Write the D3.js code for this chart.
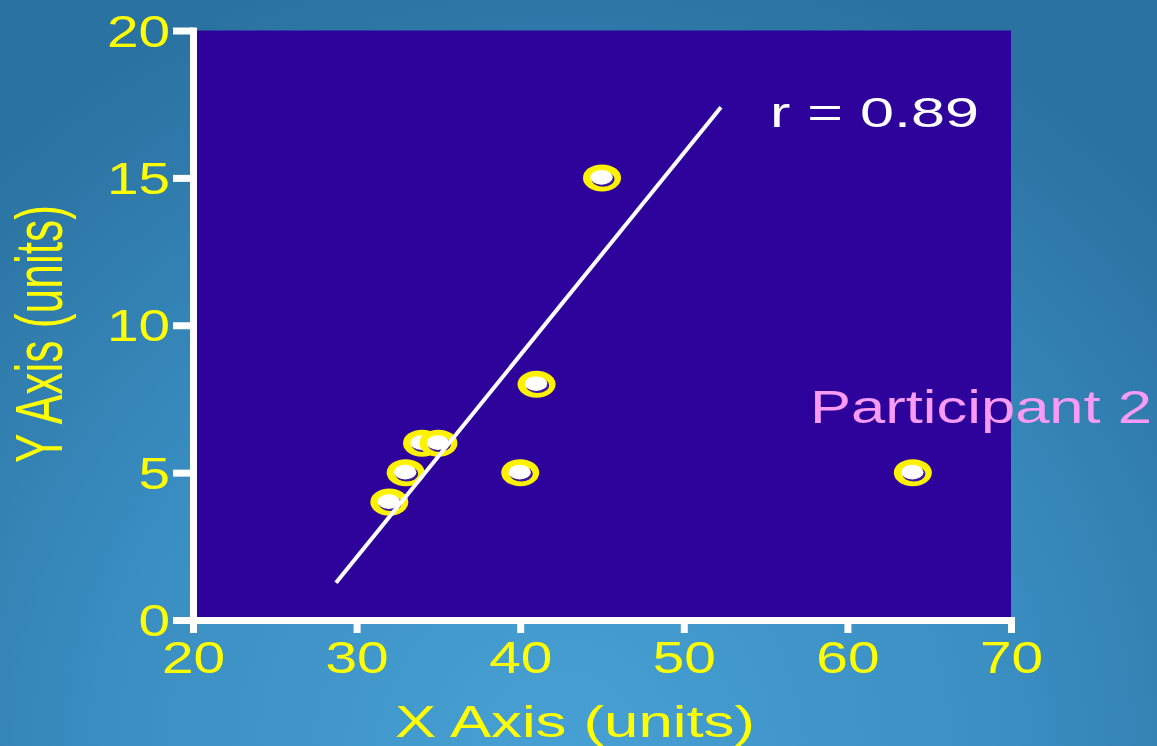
<!DOCTYPE html>
<html>
<head>
<meta charset="utf-8">
<script src="https://cdn.jsdelivr.net/npm/d3@7"></script>
<style>
  html, body { margin: 0; padding: 0; overflow: hidden; }
  svg { display: block; }
  text { font-family: "Liberation Sans", Arial, sans-serif; }
</style>
</head>
<body>
<svg id="chart" width="1157" height="746"></svg>
<script>
// ---- data ----
const xValues = [32, 33, 34, 35, 40, 41, 45, 64];
const yValues = [4, 5, 6, 6, 5, 8, 15, 5];
const xTicks = [20, 30, 40, 50, 60, 70];
const yTicks = [0, 5, 10, 15, 20];
const fitX = [28.74, 52.27];
const fitY = [1.26, 17.4];
const xTitle = "X Axis (units)";
const yTitle = "Y Axis (units)";
const rLabel = "r = 0.89";
const outlierLabel = "Participant 2";

const W = 1157, H = 746;
const svg = d3.select("#chart");

// background gradient
const defs = svg.append("defs");
const grad = defs.append("radialGradient").attr("id", "bg")
  .attr("gradientUnits", "userSpaceOnUse")
  .attr("cx", 560).attr("cy", 760).attr("r", 820);
grad.append("stop").attr("offset", "0").attr("stop-color", "#47a0d3");
grad.append("stop").attr("offset", "0.55").attr("stop-color", "#3a8ec2");
grad.append("stop").attr("offset", "1").attr("stop-color", "#2a72a1");
svg.append("rect").attr("width", W).attr("height", H).attr("fill", "url(#bg)");

const x = d3.scaleLinear().domain([20, 70]).range([193, 1011]);
const y = d3.scaleLinear().domain([0, 20]).range([620, 30.5]);

// plot area
svg.append("rect")
  .attr("x", x(20)).attr("y", y(20))
  .attr("width", x(70) - x(20)).attr("height", y(0) - y(20))
  .attr("fill", "#2d039b");

// points
const pts = svg.append("g");
xValues.forEach((xv, i) => {
  const g = pts.append("g").attr("transform", `translate(${x(xv)},${y(yValues[i])})`);
  g.append("ellipse").attr("rx", 19).attr("ry", 13.5).attr("fill", "#fff200");
  g.append("ellipse").attr("cx", 1).attr("cy", 1.2).attr("rx", 11.5).attr("ry", 7.6).attr("fill", "#3a1a9a");
  g.append("ellipse").attr("cx", -0.5).attr("cy", -0.5).attr("rx", 11.2).attr("ry", 7.3).attr("fill", "#ffffff");
});

// regression line
svg.append("line")
  .attr("x1", x(fitX[0])).attr("y1", y(fitY[0]))
  .attr("x2", x(fitX[1])).attr("y2", y(fitY[1]))
  .attr("stroke", "#ffffff").attr("stroke-width", 4);

// axes
const xAxis = svg.append("g").attr("transform", `translate(0,${y(0)})`)
  .call(d3.axisBottom(x).tickValues(xTicks).tickSize(13).tickSizeOuter(0).tickFormat(d3.format("d")));
const yAxis = svg.append("g").attr("transform", `translate(${x(20)},0)`)
  .call(d3.axisLeft(y).tickValues(yTicks).tickSize(20).tickSizeOuter(0).tickFormat(d3.format("d")));

[xAxis, yAxis].forEach(a => {
  a.select(".domain").attr("stroke", "#ffffff").attr("stroke-width", 7).attr("stroke-linecap", "square");
  a.selectAll(".tick line").attr("stroke", "#ffffff").attr("stroke-width", 7);
  a.selectAll(".tick text").attr("fill", "#ffff00").attr("font-size", 44)
    .attr("font-family", "Liberation Sans, Arial, sans-serif");
});
xAxis.selectAll(".tick text")
  .attr("y", 0).attr("dy", 0)
  .attr("transform", "translate(0,53) scale(1.29,1)");
yAxis.selectAll(".tick text")
  .attr("x", 0).attr("dy", 0).attr("text-anchor", "end")
  .attr("transform", "translate(-23,15.5) scale(1.29,1)");

// titles
svg.append("text").text(xTitle)
  .attr("x", 575).attr("y", 737).attr("text-anchor", "middle")
  .attr("font-size", 44).attr("fill", "#ffff00")
  .attr("textLength", 360).attr("lengthAdjust", "spacingAndGlyphs");

svg.append("text").text(yTitle)
  .attr("transform", "translate(62,334) scale(1.5,1) rotate(-90)")
  .attr("text-anchor", "middle")
  .attr("font-size", 44).attr("fill", "#ffff00")
  .attr("textLength", 258).attr("lengthAdjust", "spacingAndGlyphs");

// annotations
svg.append("text").text(rLabel)
  .attr("x", 770).attr("y", 127)
  .attr("font-size", 42).attr("fill", "#ffffff")
  .attr("textLength", 209).attr("lengthAdjust", "spacingAndGlyphs");

svg.append("text").text(outlierLabel)
  .attr("x", 810).attr("y", 423)
  .attr("font-size", 46).attr("fill", "#f99bf5")
  .attr("textLength", 342).attr("lengthAdjust", "spacingAndGlyphs");
</script>
</body>
</html>
